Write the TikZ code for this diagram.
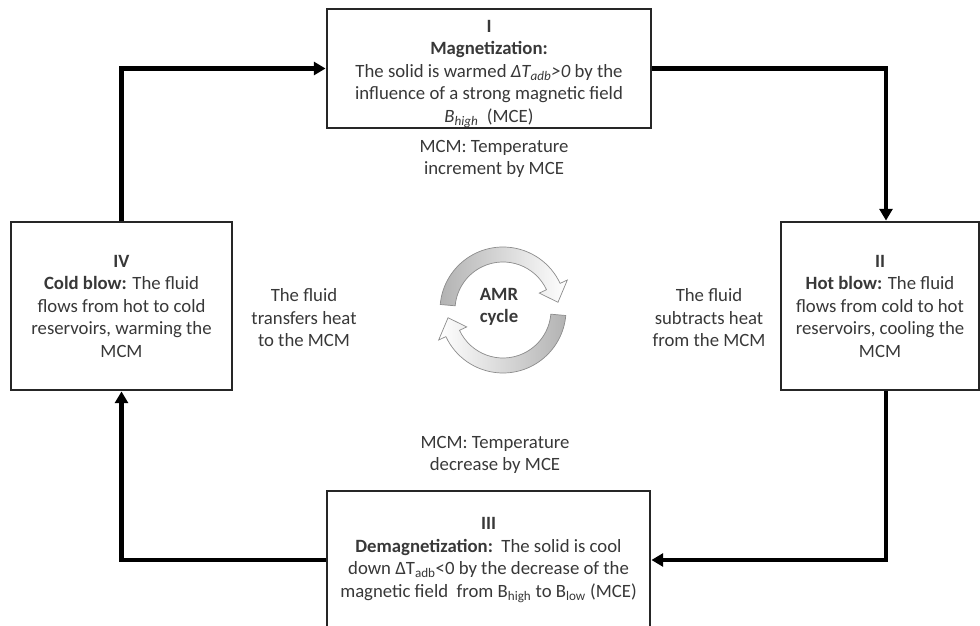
\documentclass[tikz,border=0pt]{standalone}
\usepackage{fontspec}
\setmainfont{Carlito}
\usepackage{tikz}
\usetikzlibrary{arrows.meta, positioning, calc}
\definecolor{boxline}{HTML}{262626}
\definecolor{txtgray}{HTML}{383838}
\definecolor{loopgray}{HTML}{8C8C8C}
\tikzset{
  % Stage boxes of the cycle
  stage/.style={
    rectangle, draw=boxline, fill=white, line width=2.4pt,
    text=txtgray, align=center, inner sep=0pt,
    font=\fontsize{16}{19.2}\selectfont,
  },
  % Free text between the boxes
  freenote/.style={
    text=txtgray, align=center, inner sep=0pt,
    font=\fontsize{16}{19.2}\selectfont,
  },
  % Thick connectors
  cyclearrow/.style={-{Triangle[length=10pt, width=11pt]}, line width=3.6pt, draw=black},
  % Round arrows in the middle
  loopband/.style={draw=loopgray, line width=0.6pt, #1},
}

\begin{document}
\begin{tikzpicture}[x=0.03cm, y=-0.03cm]
  \useasboundingbox (0,0) rectangle (980,626);

  % Stages
  \node[stage, minimum width=9.72cm, minimum height=3.57cm] (magn) at (489,68.5) {
    \rule{0pt}{0.68cm}\textbf{I}\\
    \textbf{Magnetization:}\\
    The solid is warmed \textit{ΔT\textsubscript{adb}>0} by the\\
    influence of a strong magnetic field\\
    \textit{B\textsubscript{high}}\ \ (MCE)
  };
  \node[stage, minimum width=5.94cm, minimum height=5.04cm] (hot) at (880,306) {
    \textbf{II}\\
    \textbf{Hot blow:} The fluid\\
    flows from cold to hot\\
    reservoirs, cooling the\\
    MCM
  };
  \node[stage, minimum width=9.69cm, minimum height=4.14cm] (demag) at (488.5,560) {
    \textbf{III}\\
    \textbf{Demagnetization:}\ \ The solid is cool\\
    down ΔT\textsubscript{adb}<0 by the decrease of the\\
    magnetic field\ \ from B\textsubscript{high} to B\textsubscript{low} (MCE)
  };
  \node[stage, minimum width=6.63cm, minimum height=5.04cm] (cold) at (121.5,306) {
    \textbf{IV}\\
    \textbf{Cold blow:} The fluid\\
    flows from hot to cold\\
    reservoirs, warming the\\
    MCM
  };

  % Notes
  \node[freenote] (incr) at (494,159) {MCM: Temperature\\increment by MCE};
  \node[freenote] (decr) at (495,455) {MCM: Temperature\\decrease by MCE};
  \node[freenote] (give) at (304,318) {The fluid\\transfers heat\\to the MCM};
  \node[freenote] (take) at (709,318) {The fluid\\subtracts heat\\from the MCM};

  % Cycle connectors
  \draw[cyclearrow] (cold.north) |- (magn.west);
  \draw[cyclearrow] (magn.east) -| ([xshift=0.18cm]hot.north);
  \draw[cyclearrow] ([xshift=0.18cm]hot.south) |- (demag.east);
  \draw[cyclearrow] (demag.west) -| (cold.south);

  % AMR cycle symbol
  \node[freenote, font=\fontsize{16}{19.2}\selectfont\bfseries] (amr) at (499,307) {AMR\\cycle};
  \begin{scope}[shift={(503,310)}, x=0.03cm, y=0.03cm]
    \path[loopband={left color=gray!60, right color=white}]
      (175:63) arc[start angle=175, end angle=25, radius=63]
      -- (25:71) -- (8:55.5) -- (25:40) -- (25:48)
      arc[start angle=25, end angle=175, radius=48] -- cycle;
    \path[loopband={left color=white, right color=gray!60}]
      (-5:63) arc[start angle=-5, end angle=-155, radius=63]
      -- (205:71) -- (188:55.5) -- (205:40) -- (205:48)
      arc[start angle=-155, end angle=-5, radius=48] -- cycle;
  \end{scope}

\end{tikzpicture}
\end{document}
